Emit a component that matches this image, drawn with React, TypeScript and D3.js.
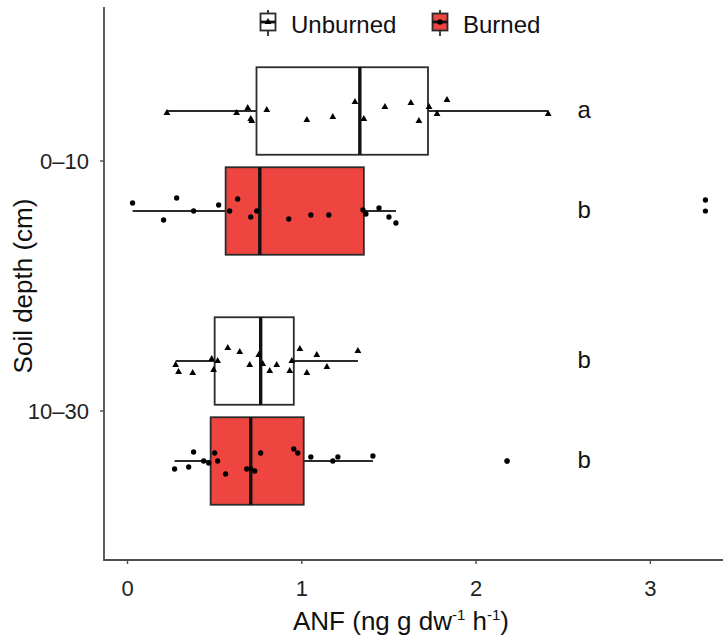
import React from "react";
import * as d3 from "d3";

const categories = ["0–10", "10–30"];
const groups = ["Unburned", "Burned"];
const xTicks = [0, 1, 2, 3];

// one entry per box: [0–10 Unburned, 0–10 Burned, 10–30 Unburned, 10–30 Burned]
const boxCategory = ["0–10", "0–10", "10–30", "10–30"];
const boxGroup = ["Unburned", "Burned", "Unburned", "Burned"];
const whiskerLow = [0.226, 0.029, 0.276, 0.27];
const q1 = [0.74, 0.563, 0.5, 0.477];
const median = [1.333, 0.759, 0.764, 0.707];
const q3 = [1.724, 1.356, 0.954, 1.011];
const whiskerHigh = [2.414, 1.54, 1.322, 1.408];
const outliers = [[], [3.316], [], [2.178]];
const letters = ["a", "b", "b", "b"];

// jittered observations: [value, vertical jitter in category units]
const jitterUnburned010 = [
  [0.226, 0.008], [0.626, 0.008], [0.69, -0.012], [0.707, 0.032], [0.713, 0.04],
  [0.799, -0.004], [1.029, 0.036], [1.178, 0.024], [1.305, -0.036], [1.356, 0.032],
  [1.477, -0.016], [1.626, -0.032], [1.672, 0.04], [1.73, -0.016], [1.776, 0.012],
  [1.833, -0.044], [2.414, 0.012],
];
const jitterBurned010 = [
  [0.029, -0.032], [0.207, 0.036], [0.282, -0.052], [0.379, 0], [0.523, -0.024],
  [0.586, 0], [0.632, -0.048], [0.707, 0.024], [0.741, 0], [0.925, 0.032],
  [1.052, 0.016], [1.155, 0.016], [1.351, -0.004], [1.368, 0.012], [1.443, -0.012],
  [1.5, 0.024], [1.54, 0.048], [3.316, -0.044],
];
const jitterUnburned1030 = [
  [0.276, 0.016], [0.293, 0.044], [0.374, 0.048], [0.483, -0.008], [0.494, 0.036],
  [0.517, 0], [0.575, -0.052], [0.644, -0.036], [0.701, 0.016], [0.753, -0.024],
  [0.776, 0.012], [0.816, 0.04], [0.856, 0.016], [0.931, 0.04], [0.943, 0],
  [0.989, -0.048], [1.029, 0.048], [1.086, -0.024], [1.144, 0.024], [1.322, -0.04],
];
const jitterBurned1030 = [
  [0.27, 0.032], [0.351, 0.024], [0.379, -0.036], [0.437, 0], [0.466, 0.008],
  [0.5, -0.032], [0.517, 0], [0.563, 0.052], [0.684, 0.032], [0.707, 0.032],
  [0.73, 0.04], [0.764, -0.032], [0.954, -0.048], [0.977, -0.032], [1.052, -0.016],
  [1.178, 0], [1.207, -0.016], [1.408, -0.02], [2.178, 0],
];
const jitterSets = [jitterUnburned010, jitterBurned010, jitterUnburned1030, jitterBurned1030];

const W = 723;
const H = 639;
const panel = { left: 104, top: 11, bottom: 561 };
const FONT = "'Liberation Sans', Arial, Helvetica, sans-serif";
const fillColor: Record<string, string> = { Unburned: "#ffffff", Burned: "#EE4540" };
const lineColor = "#2b2b2b";
const axisColor = "#4d4d4d";

const x = d3.scaleLinear().domain([-0.135, 3.48]).range([panel.left, 734]);
const y = d3.scalePoint<string>().domain(categories).range([panel.top, panel.bottom]).padding(0.6);
const step = y.step();
const dodge = d3.scaleOrdinal<string, number>().domain(groups).range([-0.2, 0.2]);
const boxH = 0.35 * step;

const triangle = d3.symbol().type(d3.symbolTriangle).size(20)();
const circle = d3.symbol().type(d3.symbolCircle).size(22)();

function Mark({ group, cx, cy }: { group: string; cx: number; cy: number }) {
  return (
    <path
      d={group === "Unburned" ? triangle! : circle!}
      transform={`translate(${cx},${cy})`}
      fill="#000"
    />
  );
}

export default function App() {
  return (
    <svg width={W} height={H} style={{ display: "block", position: "absolute", left: 0, top: 0 }} fontFamily={FONT}>
      <rect x={0} y={0} width={W} height={H} fill="#fff" />
      {/* boxes */}
      {boxCategory.map((cat, i) => {
        const g = boxGroup[i];
        const cy = (y(cat) as number) + dodge(g) * step;
        return (
          <g key={"box" + i}>
            <line x1={x(whiskerLow[i])} x2={x(q1[i])} y1={cy} y2={cy} stroke={lineColor} strokeWidth={1.8} />
            <line x1={x(q3[i])} x2={x(whiskerHigh[i])} y1={cy} y2={cy} stroke={lineColor} strokeWidth={1.8} />
            <rect
              x={x(q1[i])}
              y={cy - boxH / 2}
              width={x(q3[i]) - x(q1[i])}
              height={boxH}
              fill={fillColor[g]}
              stroke={lineColor}
              strokeWidth={1.8}
            />
            <line x1={x(median[i])} x2={x(median[i])} y1={cy - boxH / 2} y2={cy + boxH / 2} stroke="#111" strokeWidth={3.4} />
            {outliers[i].map((v, k) => (
              <circle key={k} cx={x(v)} cy={cy} r={2.6} fill="#000" />
            ))}
          </g>
        );
      })}
      {/* jittered points */}
      {jitterSets.map((set, i) => {
        const g = boxGroup[i];
        const cy = (y(boxCategory[i]) as number) + dodge(g) * step;
        return (
          <g key={"pts" + i}>
            {set.map(([v, j], k) => (
              <Mark key={k} group={g} cx={x(v)} cy={cy + j * step} />
            ))}
          </g>
        );
      })}
      {/* significance letters */}
      {boxCategory.map((cat, i) => {
        const cy = (y(cat) as number) + dodge(boxGroup[i]) * step;
        return (
          <text key={"lt" + i} x={x(2.62)} y={cy} dy="0.3em" textAnchor="middle" fontSize={24} fill="#111">
            {letters[i]}
          </text>
        );
      })}
      {/* axes */}
      <line x1={panel.left} x2={panel.left} y1={panel.top - 4} y2={panel.bottom} stroke={axisColor} strokeWidth={1.8} />
      <line x1={panel.left} x2={W} y1={panel.bottom - 1} y2={panel.bottom - 1} stroke={axisColor} strokeWidth={1.8} />
      {xTicks.map((t) => (
        <g key={"xt" + t}>
          <line x1={x(t)} x2={x(t)} y1={panel.bottom - 1} y2={panel.bottom + 3} stroke={axisColor} strokeWidth={1.4} />
          <text x={x(t)} y={596} textAnchor="middle" fontSize={22} fill="#222">
            {t}
          </text>
        </g>
      ))}
      {categories.map((c) => (
        <g key={"yt" + c}>
          <line x1={panel.left - 4} x2={panel.left} y1={y(c)} y2={y(c)} stroke={axisColor} strokeWidth={1.4} />
          <text x={panel.left - 15} y={y(c)} dy="0.36em" textAnchor="end" fontSize={22} fill="#222">
            {c}
          </text>
        </g>
      ))}
      <text x={401} y={630} textAnchor="middle" fontSize={26} fill="#111">
        ANF (ng g dw
        <tspan fontSize={15} dy={-10}>-1</tspan>
        <tspan dy={10}> h</tspan>
        <tspan fontSize={15} dy={-10}>-1</tspan>
        <tspan dy={10}>)</tspan>
      </text>
      <text transform={`translate(32,${(panel.top + panel.bottom) / 2}) rotate(-90)`} textAnchor="middle" fontSize={26} fill="#111">
        Soil depth (cm)
      </text>
      {/* legend */}
      {groups.map((g, i) => {
        const kx = i === 0 ? 268 : 440;
        const ky = 22;
        return (
          <g key={"lg" + g}>
            <line x1={kx} x2={kx} y1={ky - 12} y2={ky + 14} stroke={lineColor} strokeWidth={1.8} />
            <rect x={kx - 7.5} y={ky - 8.5} width={15} height={17} fill={fillColor[g]} stroke={lineColor} strokeWidth={1.8} />
            <line x1={kx - 7.5} x2={kx + 7.5} y1={ky} y2={ky} stroke="#111" strokeWidth={2.8} />
            <Mark group={g} cx={kx} cy={ky} />
            <text x={kx + 23} y={33} fontSize={24} fill="#111">
              {g}
            </text>
          </g>
        );
      })}
    </svg>
  );
}
